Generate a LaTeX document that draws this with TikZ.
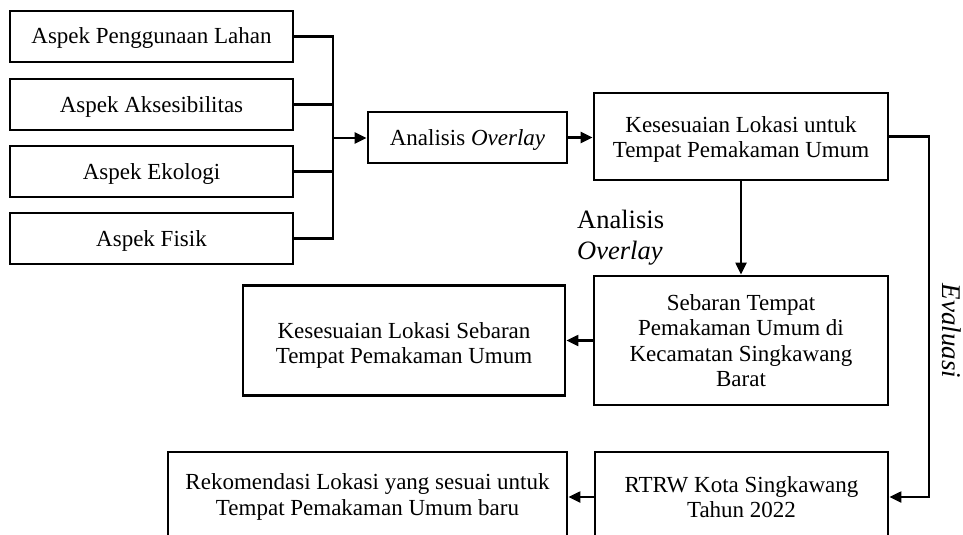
\documentclass[tikz,border=0pt]{standalone}
\usepackage{fontspec}
\setmainfont{Liberation Serif}
\usetikzlibrary{arrows.meta}
\begin{document}
\begin{tikzpicture}[x=1pt,y=-1pt,
  box/.style={draw=black, line width=2.8pt, fill=white, align=center, inner sep=0pt,
    font=\fontsize{23}{25.5}\selectfont},
  onebox/.style={box, text height=17pt, text depth=2pt},
  conn/.style={draw=black, line width=2.2pt},
  arr/.style={conn, -{Triangle[length=12pt,width=11pt]}},
  lbl/.style={inner sep=0pt}
]
\clip (0,0) rectangle (963,535);
\fill[white] (0,0) rectangle (963,535);
% left aspect boxes
\node[onebox, minimum width=283pt, minimum height=51pt] (b1) at (151.5,36.5) {Aspek Penggunaan Lahan};
\node[onebox, minimum width=283pt, minimum height=51pt] (b2) at (151.5,104.5) {Aspek Aksesibilitas};
\node[onebox, minimum width=283pt, minimum height=51pt] (b3) at (151.5,171.5) {Aspek Ekologi};
\node[onebox, minimum width=283pt, minimum height=51pt] (b4) at (151.5,238.5) {Aspek Fisik};
% analysis overlay box
\node[onebox, minimum width=199pt, minimum height=51pt] (ao) at (467.5,137.5) {Analisis \textit{Overlay}};
% kesesuaian lokasi
\node[box, minimum width=294pt, minimum height=87pt] (k1) at (741,136.5) {\rule{0pt}{22pt}Kesesuaian Lokasi untuk\\Tempat Pemakaman Umum};
% sebaran
\node[box, minimum width=294pt, minimum height=129pt] (seb) at (741,340.5) {Sebaran Tempat\\Pemakaman Umum di\\Kecamatan Singkawang\\Barat};
% kesesuaian lokasi sebaran
\node[box, minimum width=322pt, minimum height=110pt] (ks) at (404,340.5) {\rule{0pt}{26pt}Kesesuaian Lokasi Sebaran\\Tempat Pemakaman Umum};
% RTRW
\node[box, minimum width=293pt, minimum height=90pt] (rtrw) at (741.5,497) {RTRW Kota Singkawang\\Tahun 2022};
% Rekomendasi
\node[box, minimum width=399pt, minimum height=90pt] (rek) at (367.5,497) {Rekomendasi Lokasi yang sesuai untuk\\Tempat Pemakaman Umum baru};
% helper coordinates
\coordinate (bus) at (333,138);
\coordinate (ev) at (929,300);
% connectors
\draw[conn] (b1.east) -- (b1.east -| bus) |- (b4.east);
\draw[conn] (b2.east) -- (b2.east -| bus);
\draw[conn] (b3.east) -- (b3.east -| bus);
\draw[arr] (bus) -- (bus -| ao.west);
\draw[arr] (ao.east) -- (ao.east -| k1.west);
\draw[arr] (k1.south) -- (seb.north);
\draw[arr] (seb.west) -- (ks.east);
\draw[arr] (k1.east) -- (k1.east -| ev) |- (rtrw.east);
\draw[arr] (rtrw.west) -- (rek.east);
% labels
\node[lbl, anchor=west, align=left, font=\fontsize{26.5}{31}\selectfont] (lao) at (577,237.5) {Analisis\\\textit{Overlay}};
\node[lbl, rotate=-90, font=\fontsize{27}{31}\selectfont\itshape] (lev) at (952,331) {Evaluasi};
\end{tikzpicture}
\end{document}
